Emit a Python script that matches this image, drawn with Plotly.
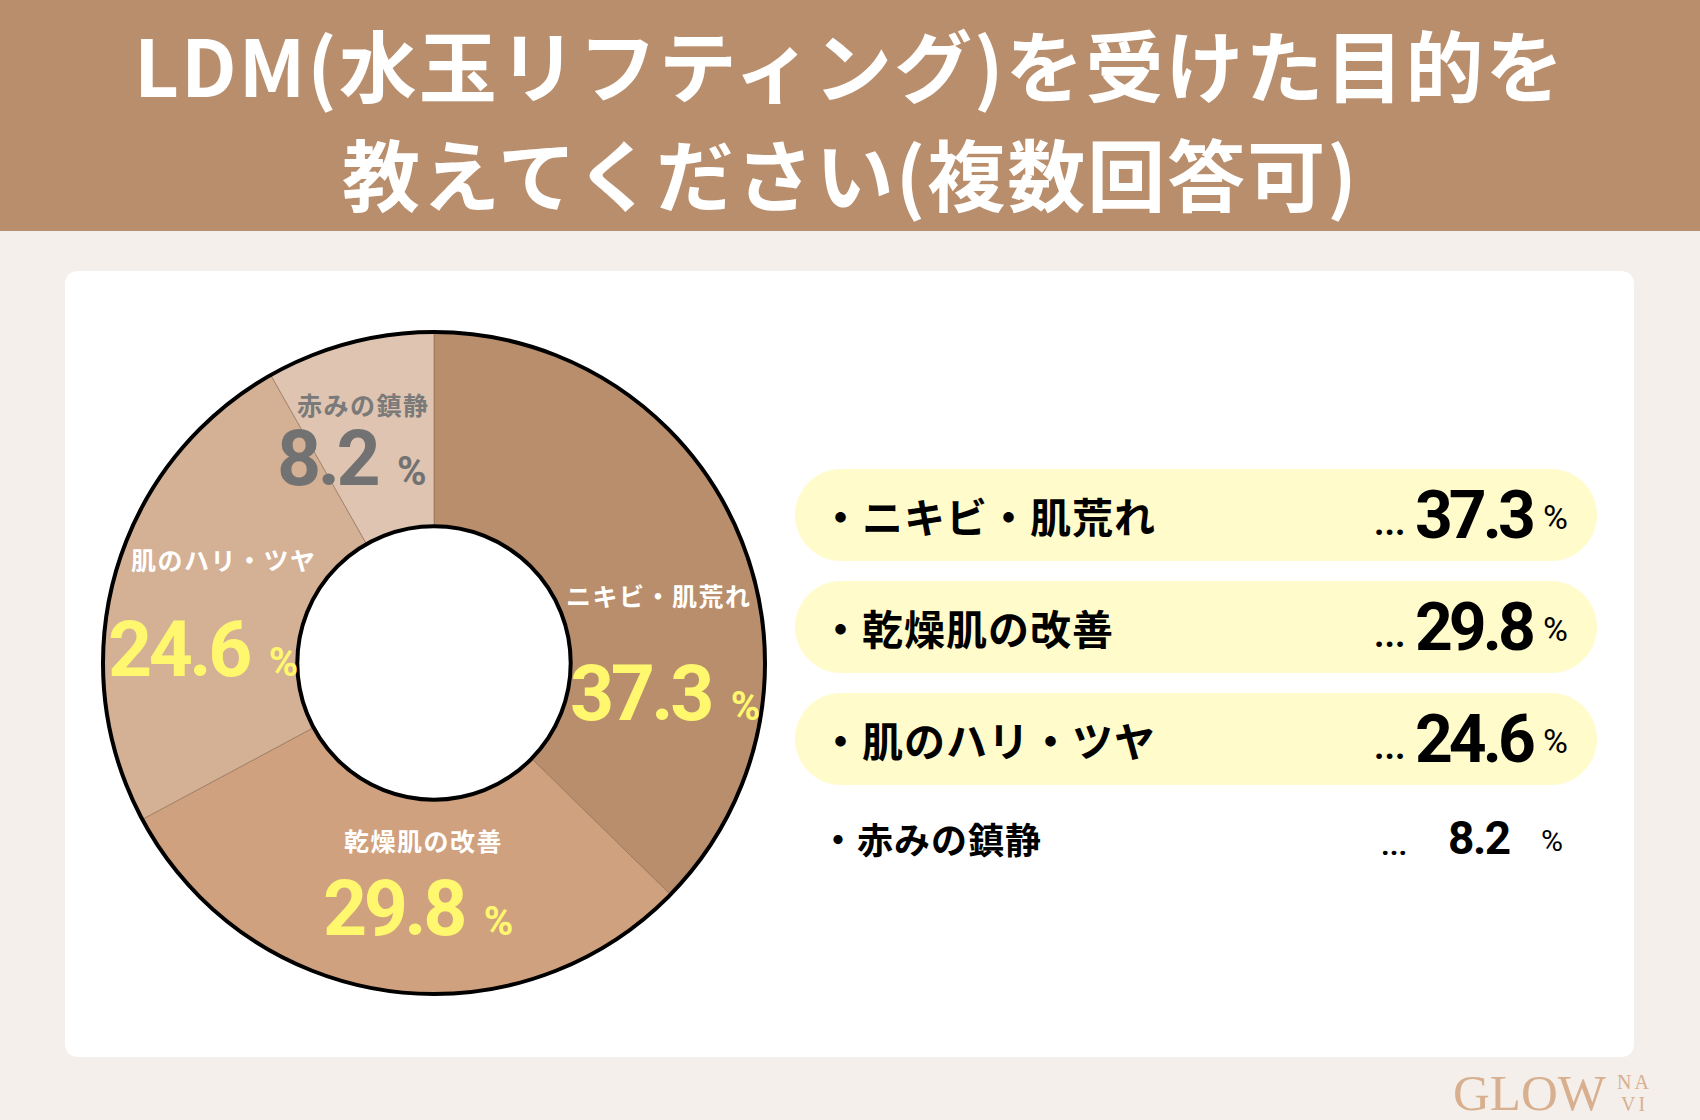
import plotly.graph_objects as go

# ---------------- data ----------------
categories = ["ニキビ・肌荒れ", "乾燥肌の改善", "肌のハリ・ツヤ", "赤みの鎮静"]
values = [37.3, 29.8, 24.6, 8.2]
title_lines = ["LDM(水玉リフティング)を受けた目的を", "教えてください(複数回答可)"]
brand_main = "GLOW"
brand_sub = ["NA", "VI"]

# ---------------- styles ----------------
slice_colors = ["#B98E6C", "#CFA17E", "#D4B094", "#DFC4B1"]
in_label_colors = ["#FFFFFF", "#FFFFFF", "#FFFFFF", "#7A7A7A"]
in_num_colors = ["#FFF86E", "#FFF86E", "#FFF86E", "#727272"]
BANNER = "#B98E6C"
BG = "#F4EFEA"
PILL = "#FFFBCB"
JP = "Noto Sans CJK JP"
NUM = "Roboto, sans-serif"

W, H = 1700, 1120


def px(x):
    return x / W


def py(y):
    return 1 - y / H


CX, CY, R = 434, 663, 331
HOLE = 0.413

fig = go.Figure(
    go.Pie(
        labels=categories,
        values=values,
        sort=False,
        direction="clockwise",
        rotation=0,
        hole=HOLE,
        marker=dict(colors=slice_colors, line=dict(color="#8A6B54", width=0.6)),
        textinfo="none",
        hoverinfo="skip",
        showlegend=False,
        domain=dict(x=[px(CX - R), px(CX + R)], y=[py(CY + R), py(CY - R)]),
    )
)

shapes = []
annotations = []

# banner
shapes.append(dict(type="rect", xref="paper", yref="paper", x0=0, x1=1, y0=py(231), y1=1,
                   fillcolor=BANNER, line=dict(width=0), layer="below"))


# rounded white card
def rounded_rect_path(x0, y0, x1, y1, r):
    pts = [
        f"M {px(x0 + r)},{py(y0)}",
        f"L {px(x1 - r)},{py(y0)}",
        f"Q {px(x1)},{py(y0)} {px(x1)},{py(y0 + r)}",
        f"L {px(x1)},{py(y1 - r)}",
        f"Q {px(x1)},{py(y1)} {px(x1 - r)},{py(y1)}",
        f"L {px(x0 + r)},{py(y1)}",
        f"Q {px(x0)},{py(y1)} {px(x0)},{py(y1 - r)}",
        f"L {px(x0)},{py(y0 + r)}",
        f"Q {px(x0)},{py(y0)} {px(x0 + r)},{py(y0)}",
        "Z",
    ]
    return " ".join(pts)


shapes.append(dict(type="path", xref="paper", yref="paper",
                   path=rounded_rect_path(65, 271, 1634, 1057, 14),
                   fillcolor="#FFFFFF", line=dict(width=0), layer="below"))

# donut outlines
for rr, lw in [(R, 4), (R * HOLE, 4)]:
    shapes.append(dict(type="circle", xref="paper", yref="paper",
                       x0=px(CX - rr), x1=px(CX + rr), y0=py(CY + rr), y1=py(CY - rr),
                       line=dict(color="#000000", width=lw), fillcolor="rgba(0,0,0,0)",
                       layer="above"))

# labels inside donut
label_pos = [(659, 595), (423, 840), (224, 559), (363, 404)]
num_pos = [(665, 694), (418, 909), (203, 650), (352, 459)]
for i, (cat, val) in enumerate(zip(categories, values)):
    lx, ly = label_pos[i]
    annotations.append(dict(x=px(lx), y=py(ly), xref="paper", yref="paper", showarrow=False,
                            text=f"<span style='letter-spacing:1.5px'>{cat}</span>",
                            xanchor="center", yanchor="middle",
                            font=dict(family=JP, size=25, color=in_label_colors[i], weight=700)))
    nx, ny = num_pos[i]
    annotations.append(dict(x=px(nx), y=py(ny), xref="paper", yref="paper", showarrow=False,
                            text=f"<span style='letter-spacing:-3.5px'>{val}</span>"
                                 f"<span style='font-size:40px'>\u00a0\u00a0%</span>",
                            xanchor="center", yanchor="middle",
                            font=dict(family=NUM, size=77, color=in_num_colors[i], weight=700)))

# right list
row_y = [515, 627, 739, 838]
PX0, PX1, PH = 795, 1597, 92
for i, (cat, val) in enumerate(zip(categories, values)):
    yy = row_y[i]
    big = i < 3
    if big:
        r = PH / 2
        shapes.append(dict(type="rect", xref="paper", yref="paper",
                           x0=px(PX0 + r), x1=px(PX1 - r), y0=py(yy + r), y1=py(yy - r),
                           fillcolor=PILL, line=dict(width=0), layer="below"))
        for cx in (PX0 + r, PX1 - r):
            shapes.append(dict(type="circle", xref="paper", yref="paper",
                               x0=px(cx - r), x1=px(cx + r), y0=py(yy + r), y1=py(yy - r),
                               fillcolor=PILL, line=dict(width=0), layer="below"))
    annotations.append(dict(x=px(818), y=py(yy), xref="paper", yref="paper", showarrow=False,
                            text=f"<span style='letter-spacing:1px'>・{cat}</span>",
                            xanchor="left", yanchor="middle",
                            font=dict(family=JP, size=41 if big else 36, color="#000000", weight=700)))
    annotations.append(dict(x=px(1389 if big else 1394), y=py(yy + (8 if big else 6)), xref="paper",
                            yref="paper", showarrow=False, text="...", xanchor="center",
                            yanchor="middle",
                            font=dict(family=NUM, size=36 if big else 30, color="#000000", weight=700)))
    annotations.append(dict(x=px(1474 if big else 1479), y=py(yy), xref="paper", yref="paper",
                            showarrow=False,
                            text=f"<span style='letter-spacing:{-4 if big else -1.5}px'>{val}</span>",
                            xanchor="center", yanchor="middle",
                            font=dict(family=NUM, size=66 if big else 46, color="#000000", weight=700)))
    annotations.append(dict(x=px(1555 if big else 1552), y=py(yy + 2), xref="paper", yref="paper",
                            showarrow=False, text="%", xanchor="center", yanchor="middle",
                            font=dict(family=NUM, size=34 if big else 30, color="#000000", weight=400)))

# title
for i, (line, yy) in enumerate(zip(title_lines, [63, 172])):
    annotations.append(dict(x=0.5, y=py(yy), xref="paper", yref="paper", showarrow=False,
                            text=f"<span style='letter-spacing:2px'>{line}</span>",
                            xanchor="center", yanchor="middle",
                            font=dict(family=JP, size=78, color="#FFFFFF", weight=700)))

# brand logo
annotations.append(dict(x=px(1530), y=py(1093), xref="paper", yref="paper", showarrow=False,
                        text=brand_main, xanchor="center", yanchor="middle",
                        font=dict(family="Liberation Serif", size=51, color="#D8B090")))
for s, yy in zip(brand_sub, [1082, 1104]):
    annotations.append(dict(x=px(1634), y=py(yy), xref="paper", yref="paper", showarrow=False,
                            text=f"<span style='letter-spacing:3px'>{s}</span>",
                            xanchor="center", yanchor="middle",
                            font=dict(family="Liberation Serif", size=20, color="#D8B090")))

fig.update_layout(
    width=W, height=H,
    margin=dict(l=0, r=0, t=0, b=0),
    paper_bgcolor=BG,
    plot_bgcolor=BG,
    showlegend=False,
    shapes=shapes,
    annotations=annotations,
)

fig.write_html("out.html", config={"displayModeBar": False},
               post_script="document.body.style.margin='0px';")
